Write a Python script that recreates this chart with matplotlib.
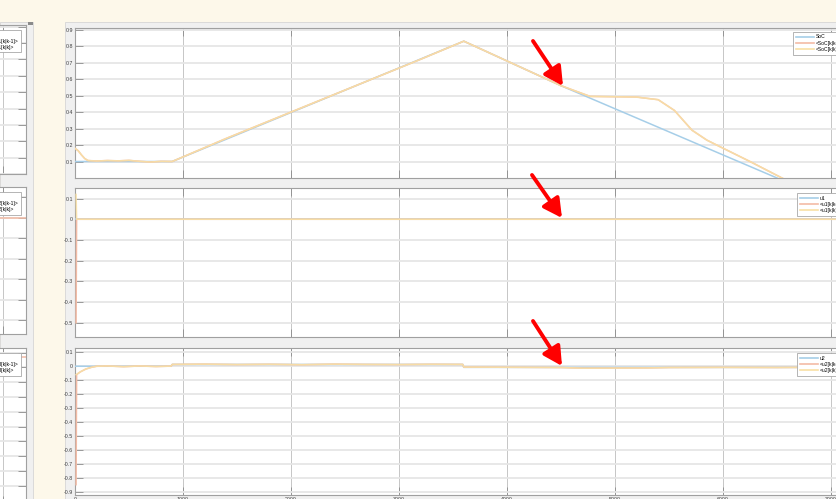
import numpy as np
import matplotlib.pyplot as plt
from matplotlib.patches import Rectangle, FancyArrowPatch
from matplotlib.lines import Line2D

plt.rcParams['font.family'] = ['Liberation Sans', 'DejaVu Sans']

W, H = 836, 499

# --- state of charge (true vs. filter estimates) ---
soc_t = [0, 900, 3600, 4500, 5500, 6500, 7500]
soc = [0.10, 0.10, 0.83, 0.56, 0.28, 0.00, -0.28]

soc_est_t = [0, 30, 60, 90, 120, 200, 300, 400, 500, 600, 700, 800, 900,
             1400, 2000, 2600, 3200, 3600, 4000, 4500, 4770, 5000, 5200,
             5400, 5550, 5713, 5850, 5972, 6250, 6546, 7500]
soc_prior = [0.18, 0.165, 0.14, 0.118, 0.106, 0.103, 0.106, 0.104, 0.107,
             0.101, 0.097, 0.101, 0.100, 0.24, 0.40, 0.56, 0.72, 0.83, 0.71,
             0.56, 0.495, 0.493, 0.491, 0.475, 0.41, 0.29, 0.23, 0.19, 0.10,
             0.0, -0.30]
soc_post = soc_prior

# --- polarisation voltage u1 ---
u1_t = [0, 7500]
u1 = [0.0, 0.0]
u1_est_t = [10, 15, 7500]
u1_prior = [-0.50, 0.0, 0.0]
u1_post = [0.12, 0.0, 0.0]

# --- polarisation voltage u2 ---
u2_t = [0, 890, 900, 3590, 3600, 7500]
u2 = [0.0, 0.0, 0.013, 0.013, -0.008, -0.008]
u2_est_t = [10, 50, 100, 150, 200, 300, 450, 600, 750, 890, 900, 1200, 1500,
            1800, 2100, 2400, 2700, 3000, 3300, 3590, 3600, 4500, 4700, 5000,
            5300, 5500, 6000, 6500, 7000, 7500]
u2_post = [-0.06, -0.04, -0.02, -0.008, 0.0, 0.002, -0.003, 0.002, -0.002,
           0.001, 0.013, 0.015, 0.012, 0.014, 0.011, 0.015, 0.013, 0.012,
           0.014, 0.013, -0.006, -0.009, -0.014, -0.013, -0.012, -0.009,
           -0.008, -0.009, -0.007, -0.008]
# prior starts far off at the first sample, then sits on the posterior
u2_prior_t = [10, 15] + u2_est_t[1:]
u2_prior = [-0.85, -0.06] + u2_post[1:]

x_ticks = [0, 1000, 2000, 3000, 4000, 5000, 6000, 7000]

BLUE = '#a6cee8'
RED = '#f3bba5'
YELLOW = '#f8e0a6'
GRID_H = '#e6e6e6'
GRID_V = '#c6c6c6'
SPINE = '#a0a0a0'
LW = 1.1


def px_axes(fig, x0, y0, x1, y1):
    """Axes placed by pixel box (top-left origin)."""
    return fig.add_axes([x0 / W, 1 - y1 / H, (x1 - x0) / W, (y1 - y0) / H])


def style_axes(ax, ylim, yticks, xlim, xticks, show_labels=True):
    ax.set_xlim(*xlim)
    ax.set_ylim(*ylim)
    ax.set_yticks(yticks)
    ax.set_xticks(xticks)
    ax.set_yticklabels([f'{v:g}' for v in yticks] if show_labels else [])
    ax.set_xticklabels([])
    ax.tick_params(direction='in', length=5.5, width=0.6, color='#8c8c8c',
                   labelsize=3.8, labelcolor='#3c3c3c', pad=1.5,
                   right=True, top=True)
    ax.grid(axis='y', color=GRID_H, lw=1.3)
    ax.grid(axis='x', color=GRID_V, lw=0.7)
    ax.set_axisbelow(True)
    for s in ax.spines.values():
        s.set_color(SPINE)
        s.set_linewidth(0.8)


def add_legend(ax, labels, x, y):
    handles = [Line2D([], [], color=c, lw=1.2) for c in (BLUE, RED, YELLOW)]
    leg = ax.legend(handles, labels, loc='upper left',
                    bbox_to_anchor=(x / W, 1 - y / H),
                    bbox_transform=ax.figure.transFigure, borderaxespad=0,
                    fontsize=3.6, fancybox=False, framealpha=1,
                    edgecolor='#a8a8a8', labelspacing=0.25, handlelength=3.6,
                    handletextpad=0.5, borderpad=0.5)
    leg.get_frame().set_linewidth(0.6)


def plot_windows(fig):
    # two figure windows on the desktop background
    fig.add_artist(Rectangle((0, 0), 33 / W, (H - 22) / H, transform=fig.transFigure,
                             facecolor='#f0f0f0', edgecolor='#d6d6d6', lw=0.6, zorder=-10))
    fig.add_artist(Rectangle((65 / W, 0), (W - 65) / W, (H - 22) / H,
                             transform=fig.transFigure, facecolor='#f0f0f0',
                             edgecolor='#d6d6d6', lw=0.6, zorder=-10))
    fig.add_artist(Rectangle((28 / W, 1 - 25 / H), 5 / W, 3 / H, transform=fig.transFigure,
                             facecolor='#8a8a8a', edgecolor='none', zorder=5))


def plot_left_panel(fig):
    boxes = [(25, 174), (187, 334), (348, 504)]
    ylims = [(0.0, 0.91), (-0.5686, 0.151), (-0.924, 0.131)]
    names = ['y1', 'y2', 'y3']
    flat = [None, 0.0, 0.07]
    for (y0, y1), yl, name, level in zip(boxes, ylims, names, flat):
        ax = px_axes(fig, -200, y0, 26, y1)
        yt = np.round(np.arange(-0.9, 0.95, 0.1), 1)
        yt = [v for v in yt if yl[0] <= v <= yl[1]]
        style_axes(ax, yl, yt, (0, 2260), [2030], show_labels=False)
        if level is not None:
            ax.plot([0, 2260], [level, level], color=RED, lw=LW)
        handles = [Line2D([], [], color=c, lw=1.2) for c in (BLUE, RED, YELLOW)]
        leg = ax.legend(handles, [name, f'<{name}[k|k-1]>', f'<{name}[k|k]>'],
                        loc='upper right', fontsize=3.6, fancybox=False,
                        framealpha=1, edgecolor='#a8a8a8', labelspacing=0.25,
                        handlelength=3.6, handletextpad=0.5, borderpad=0.5,
                        borderaxespad=1.0)
        leg.get_frame().set_linewidth(0.6)


def plot_series(ax, t_true, y_true, t_prior, y_prior, t_post, y_post):
    ax.plot(t_true, y_true, color=BLUE, lw=LW, zorder=3)
    ax.plot(t_prior, y_prior, color=RED, lw=LW, zorder=3)
    ax.plot(t_post, y_post, color=YELLOW, lw=LW, alpha=0.9, zorder=3)


def plot_main_panel(fig):
    xlim = (0, 7500)

    ax1 = px_axes(fig, 75, 28, 885, 178)
    style_axes(ax1, (0.0, 0.91), [0.1, 0.2, 0.3, 0.4, 0.5, 0.6, 0.7, 0.8, 0.9], xlim, x_ticks)
    plot_series(ax1, soc_t, soc, soc_est_t, soc_prior, soc_est_t, soc_post)
    add_legend(ax1, ['SoC', '<SoC[k|k-1]>', '<SoC[k|k]>'], 793, 32)

    ax2 = px_axes(fig, 75, 188, 885, 337)
    style_axes(ax2, (-0.5686, 0.151), [-0.5, -0.4, -0.3, -0.2, -0.1, 0, 0.1], xlim, x_ticks)
    plot_series(ax2, u1_t, u1, u1_est_t, u1_prior, u1_est_t, u1_post)
    add_legend(ax2, ['u1', '<u1[k|k-1]>', '<u1[k|k]>'], 797, 193)

    ax3 = px_axes(fig, 75, 348, 885, 495)
    yt3 = [-0.9, -0.8, -0.7, -0.6, -0.5, -0.4, -0.3, -0.2, -0.1, 0, 0.1]
    style_axes(ax3, (-0.924, 0.131), yt3, xlim, x_ticks)
    ax3.set_xticklabels([str(v) for v in x_ticks])
    plot_series(ax3, u2_t, u2, u2_prior_t, u2_prior, u2_est_t, u2_post)
    add_legend(ax3, ['u2', '<u2[k|k-1]>', '<u2[k|k]>'], 797, 353)


def add_arrows(fig):
    # red call-out arrows, pixel coordinates (tail -> tip)
    arrows = [((533, 41), (563, 86)), ((532, 175), (562, 218)), ((533, 321), (562, 366))]
    for (xa, ya), (xb, yb) in arrows:
        arr = FancyArrowPatch((xa / W, 1 - ya / H), (xb / W, 1 - yb / H),
                              transform=fig.transFigure,
                              arrowstyle='-|>,head_length=0.75,head_width=0.4',
                              mutation_scale=15, color='#ff0000', lw=2.8,
                              shrinkA=0, shrinkB=0, zorder=20)
        fig.add_artist(arr)


if __name__ == "__main__":
    fig = plt.figure(figsize=(W / 100, H / 100), dpi=100, facecolor='#fdf8ea')
    plot_windows(fig)
    plot_left_panel(fig)
    plot_main_panel(fig)
    add_arrows(fig)
    fig.savefig('out.png', dpi=100, facecolor=fig.get_facecolor())
